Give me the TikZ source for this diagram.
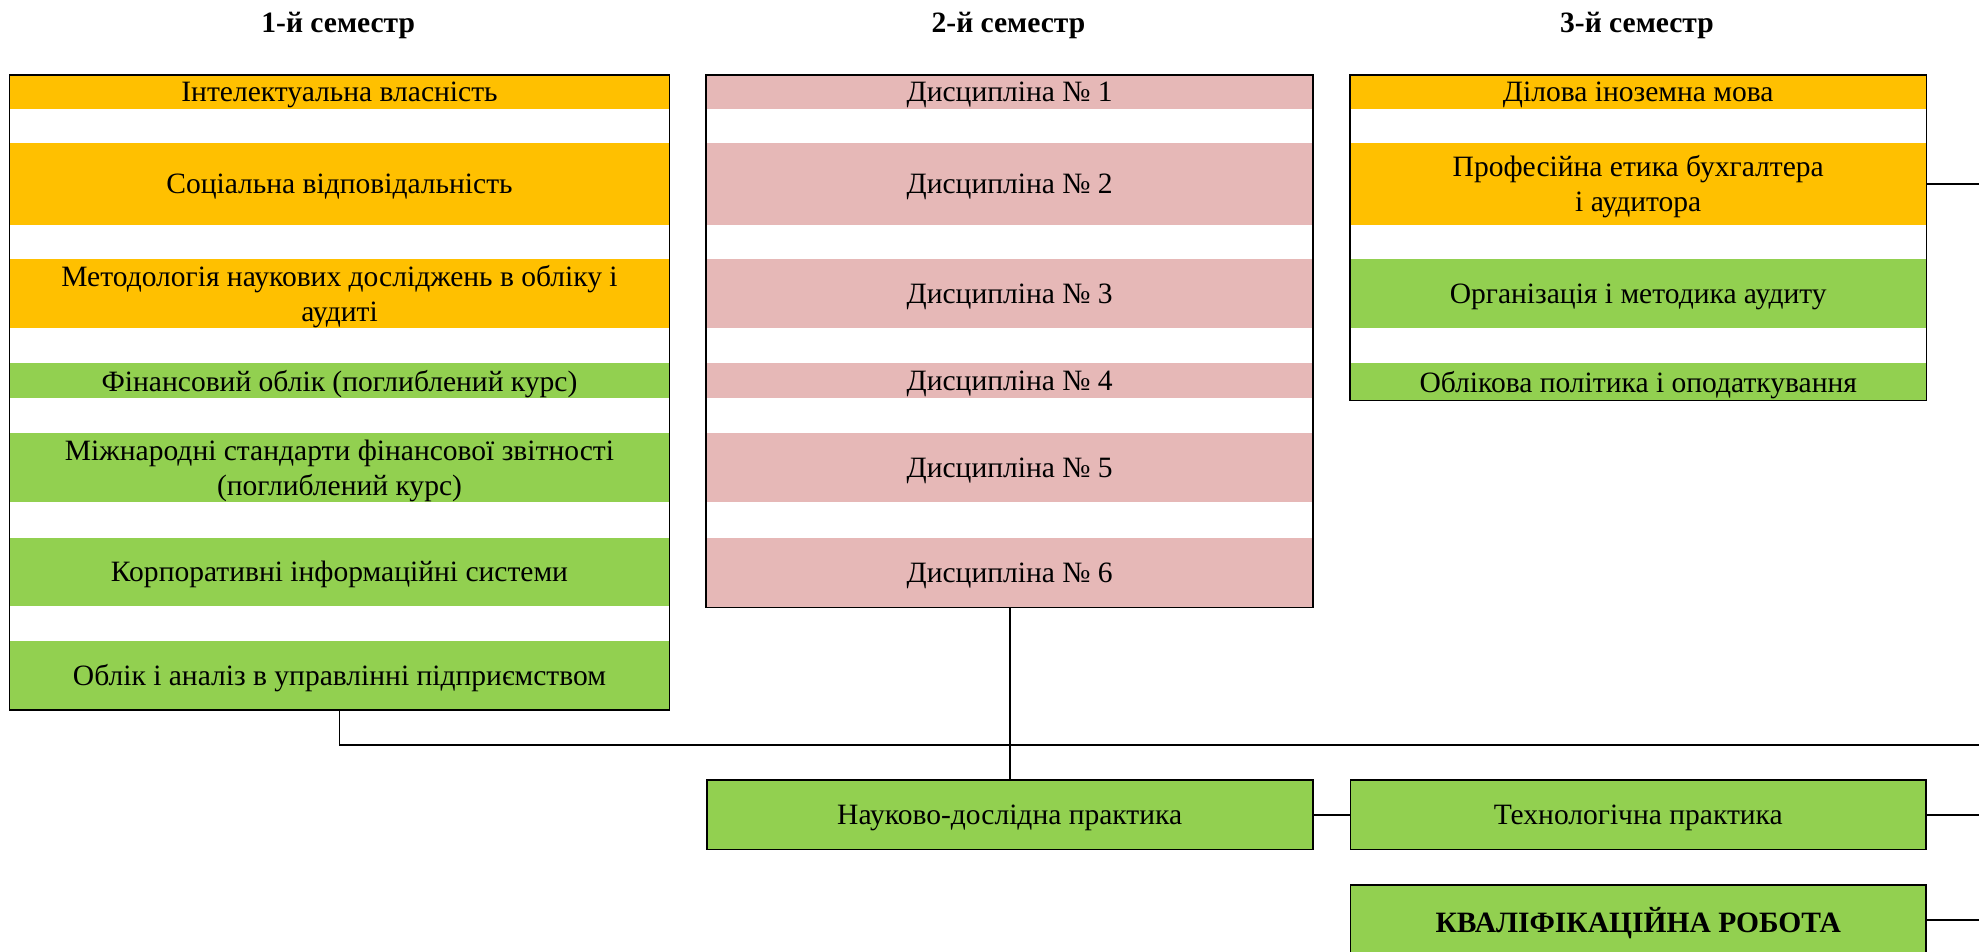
\documentclass[tikz,border=0pt]{standalone}
\usepackage{fontspec}
\setmainfont{Liberation Serif}
\usetikzlibrary{fit}
\definecolor{orng}{HTML}{FFC000}
\definecolor{grn}{HTML}{92D050}
\definecolor{pnk}{HTML}{E6B8B7}
\tikzset{
  row/.style={inner sep=0pt, text depth=0pt, align=center, font=\fontsize{11.7}{14}\selectfont},
  frame/.style={draw, line width=0.7pt, inner sep=0pt, fit=#1},
  title/.style={font=\fontsize{11.7}{14}\selectfont\bfseries},
  link/.style={line width=0.7pt}
}
\begin{document}
\begin{tikzpicture}[x=0.5pt,y=-0.5pt]
      \useasboundingbox (0,0) rectangle (1568,754);
      \node[title] (t1) at (268,20) {1-й семестр};
      \node[title] (t2) at (799,20) {2-й семестр};
      \node[title] (t3) at (1297,20) {3-й семестр};
      \begin{scope}[row, minimum width=261pt]
        \node[fill=orng, minimum height=13pt] (a1) at (269,73) {Інтелектуальна власність};
        \node[fill=orng, minimum height=32.5pt] (a2) at (269,145.5) {Соціальна відповідальність};
        \node[fill=orng, minimum height=27.5pt] (a3) at (269,232.5) {Методологія наукових досліджень в обліку і\\аудиті};
        \node[fill=grn, minimum height=13.5pt] (a4) at (269,301.5) {Фінансовий облік (поглиблений курс)};
        \node[fill=grn, minimum height=27.5pt] (a5) at (269,370.5) {Міжнародні стандарти фінансової звітності\\(поглиблений курс)};
        \node[fill=grn, minimum height=27pt] (a6) at (269,453) {Корпоративні інформаційні системи};
        \node[fill=grn, minimum height=27pt] (a7) at (269,535) {Облік і аналіз в управлінні підприємством};
      \end{scope}
      \begin{scope}[row, minimum width=240pt]
        \node[fill=pnk, minimum height=13pt] (b1) at (800,73) {Дисципліна № 1};
        \node[fill=pnk, minimum height=32.5pt] (b2) at (800,145.5) {Дисципліна № 2};
        \node[fill=pnk, minimum height=27.5pt] (b3) at (800,232.5) {Дисципліна № 3};
        \node[fill=pnk, minimum height=13.5pt] (b4) at (800,301.5) {Дисципліна № 4};
        \node[fill=pnk, minimum height=27.5pt] (b5) at (800,370.5) {Дисципліна № 5};
        \node[fill=pnk, minimum height=27.5pt] (b6) at (800,453.5) {Дисципліна № 6};
      \end{scope}
      \begin{scope}[row, minimum width=228pt]
        \node[fill=orng, minimum height=13pt] (c1) at (1298,73) {Ділова іноземна мова};
        \node[fill=orng, minimum height=32.5pt] (c2) at (1298,145.5) {Професійна етика бухгалтера\\і аудитора};
        \node[fill=grn, minimum height=27.5pt] (c3) at (1298,232.5) {Організація і методика аудиту};
        \node[fill=grn, minimum height=14.5pt] (c4) at (1298,302.5) {Облікова політика і оподаткування};
      \end{scope}
      \node[frame=(a1)(a7)] (sem1) {};
      \node[frame=(b1)(b6)] (sem2) {};
      \node[frame=(c1)(c4)] (sem3) {};
      \node[row, draw, line width=0.7pt, fill=grn, minimum width=240pt, minimum height=27.5pt] (nauk) at (800,645.5) {Науково-дослідна практика};
      \node[row, draw, line width=0.7pt, fill=grn, minimum width=228pt, minimum height=27.5pt] (tech) at (1298,645.5) {Технологічна практика};
      \node[row, draw, line width=0.7pt, fill=grn, minimum width=228pt, minimum height=28pt, font=\fontsize{11.7}{14}\selectfont\bfseries] (kval) at (1298,729) {КВАЛІФІКАЦІЙНА РОБОТА};
      \coordinate (e1) at (1568,145.5);
      \coordinate (e2) at (1568,590);
      \coordinate (e3) at (1568,645.5);
      \coordinate (e4) at (1568,729);
      \begin{scope}[link]
        \draw (sem3.east |- c2) to (e1);
        \draw (sem1.south) |- (e2);
        \draw (sem2.south) to (nauk.north);
        \draw (nauk.east) to (tech.west);
        \draw (tech.east) to (e3);
        \draw (kval.east) to (e4);
      \end{scope}
    \end{tikzpicture}
\end{document}
